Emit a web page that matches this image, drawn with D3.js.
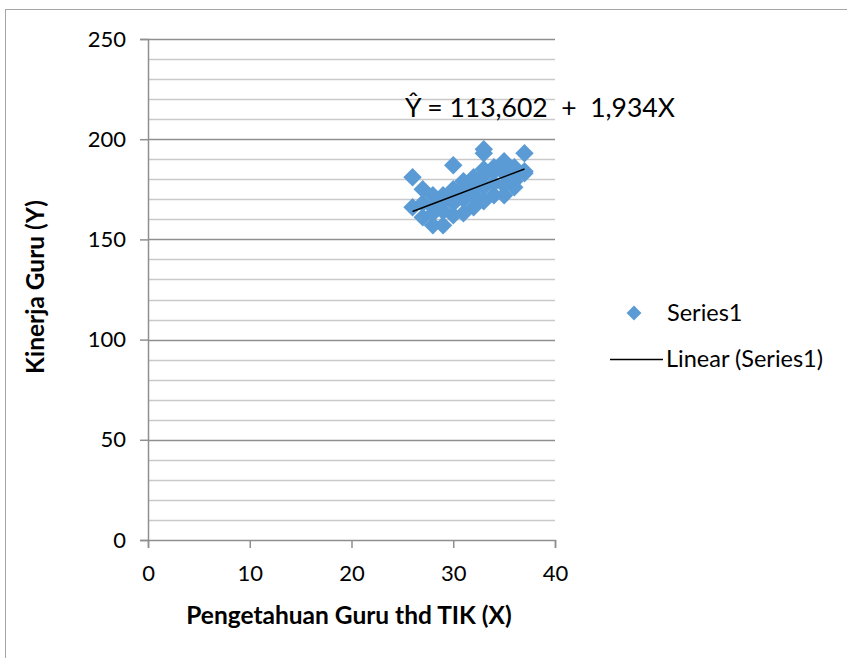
<!DOCTYPE html>
<html><head><meta charset="utf-8">
<script src="https://cdn.jsdelivr.net/npm/d3@7"></script>
<style>body{margin:0;background:#fff}svg{display:block}text{font-family:Lato,"Open Sans",sans-serif;fill:#000}</style>
</head><body><div id="c"></div>
<script>
const xVals = [26,26,27,27,27,28,28,28,28,29,29,29,29,30,30,30,30,30,31,31,31,31,31,32,32,32,32,32,33,33,33,33,33,33,34,34,34,34,35,35,35,35,35,36,36,36,36,37,37,37];
const yVals = [181,166,175,161,168,157,163,172,166,157,164,172,169,187,162,168,172,175,163,170,176,179,173,166,172,178,181,175,195,193,169,176,182,185,172,178,184,186,172,177,183,189,186,176,181,186,179,193,184,183];
const xTicks = [0,10,20,30,40];
const yTicks = [0,50,100,150,200,250];
const intercept = 113.602, slope = 1.934;
const trendX = [26,37];
const equationLabel = "Ŷ = 113,602  +  1,934X";
const xTitle = "Pengetahuan Guru thd TIK (X)";
const yTitle = "Kinerja Guru (Y)";
const legendLabels = ["Series1","Linear (Series1)"];

const W=847,H=658;
const svg=d3.select("#c").append("svg").attr("width",W).attr("height",H);
svg.append("rect").attr("x",5.5).attr("y",9.5).attr("width",W+10).attr("height",H+10).attr("fill","#fff").attr("stroke","#a6a6a6");

const x=d3.scaleLinear().domain([0,40]).range([148,555]);
const y=d3.scaleLinear().domain([0,250]).range([540,39]);
const blue="#5b9bd5";

// gridlines
const minor=d3.range(10,251,10).filter(v=>v%50!==0);
svg.append("g").selectAll("line").data(minor).join("line")
 .attr("x1",x(0)).attr("x2",x(40)).attr("y1",d=>Math.round(y(d))+0.5).attr("y2",d=>Math.round(y(d))+0.5)
 .attr("stroke","#c9c9c9").attr("stroke-width",1.5);
svg.append("g").selectAll("line").data(yTicks.filter(v=>v>0)).join("line")
 .attr("x1",x(0)).attr("x2",x(40)).attr("y1",d=>Math.round(y(d))+0.5).attr("y2",d=>Math.round(y(d))+0.5)
 .attr("stroke","#8f8f8f").attr("stroke-width",1.5);

// axes
const yAxis=d3.axisLeft(y).tickValues(yTicks).tickSize(8).tickPadding(14);
const gy=svg.append("g").attr("transform",`translate(${x(0)},0)`).call(yAxis);
const xAxis=d3.axisBottom(x).tickValues(xTicks).tickSize(8).tickPadding(17);
const gx=svg.append("g").attr("transform",`translate(0,${y(0)})`).call(xAxis);
[gx,gy].forEach(g=>{
  g.select(".domain").attr("stroke","#8f8f8f").attr("stroke-width",1.5);
  g.selectAll(".tick line").attr("stroke","#8f8f8f").attr("stroke-width",1.5);
  g.selectAll(".tick text").attr("font-family","Lato").attr("font-size",22).attr("fill","#000");
});

// points
const diamond=d3.symbol().type(d3.symbolSquare).size(170);
svg.append("g").selectAll("path").data(xVals.map((v,i)=>[v,yVals[i]])).join("path")
 .attr("d",diamond).attr("transform",d=>`translate(${x(d[0])},${y(d[1])}) rotate(45)`)
 .attr("fill",blue);

// trendline
svg.append("line").attr("x1",x(trendX[0])).attr("y1",y(intercept+slope*trendX[0]))
 .attr("x2",x(trendX[1])).attr("y2",y(intercept+slope*trendX[1]))
 .attr("stroke","#000").attr("stroke-width",1.5);

// equation
svg.append("text").attr("x",405).attr("y",117).attr("font-size",26.5).style("white-space","pre").text(equationLabel);

// titles
svg.append("text").attr("x",349).attr("y",624).attr("text-anchor","middle").attr("font-size",24.5).attr("font-weight","bold").text(xTitle);
svg.append("text").attr("transform","translate(44,287) rotate(-90)").attr("text-anchor","middle").attr("font-size",24.5).attr("font-weight","bold").text(yTitle);

// legend
svg.append("path").attr("d",d3.symbol().type(d3.symbolSquare).size(110)).attr("transform","translate(634,313) rotate(45)").attr("fill",blue);
svg.append("text").attr("x",667).attr("y",321).attr("font-size",23.5).text(legendLabels[0]);
svg.append("line").attr("x1",610).attr("x2",663).attr("y1",359.5).attr("y2",359.5).attr("stroke","#000").attr("stroke-width",1.5);
svg.append("text").attr("x",666).attr("y",367).attr("font-size",23.5).text(legendLabels[1]);
</script></body></html>
